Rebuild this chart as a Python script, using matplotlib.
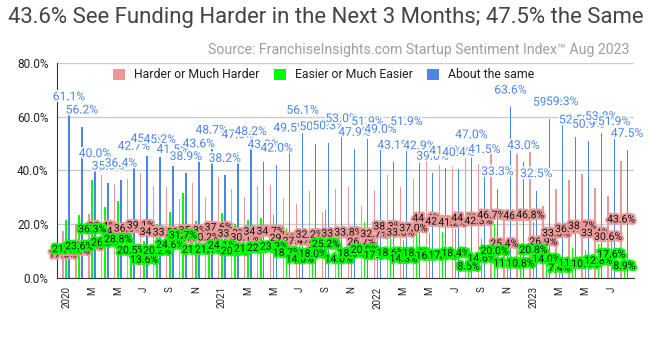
import matplotlib
matplotlib.use("Agg")
import matplotlib.pyplot as plt
import matplotlib.patheffects as pe
from matplotlib.patches import Patch
import numpy as np

plt.rcParams['font.family'] = ['Roboto', 'DejaVu Sans']

# Monthly survey results, Jan 2020 - Aug 2023 (percent of respondents)
harder = [17.5, 20.2, 23.7, 38.4, 34.8, 36.8, 39.1, 34.3, 33.9, 29.4, 35.3, 30.2,
          37.6, 33.0, 30.1, 34.4, 34.7, 29.6, 27.4, 32.2, 24.5, 33.0, 33.8, 26.7,
          32.7, 38.3, 33.8, 37.0, 44.4, 42.0, 41.2, 44.5, 42.3, 46.7, 25.4, 46.2,
          46.8, 26.9, 33.3, 36.4, 38.7, 33.4, 30.6, 43.6]
easier = [21.4, 23.6, 36.3, 26.3, 28.8, 20.5, 13.6, 20.2, 24.6, 31.7, 21.1, 21.1,
          24.1, 20.0, 21.7, 22.3, 23.3, 18.7, 14.0, 18.0, 25.2, 14.0, 18.3, 20.9,
          17.1, 18.6, 14.3, 18.5, 16.6, 17.0, 18.4, 8.5, 14.6, 20.0, 11.0, 10.8,
          20.8, 14.0, 7.4, 11.1, 10.4, 12.8, 17.6, 8.9]
same = [61.1, 56.2, 40.0, 35.3, 36.4, 42.7, 45.5, 45.2, 41.5, 38.9, 43.6, 48.7,
        38.2, 47.0, 48.2, 43.3, 42.0, 49.5, 56.1, 50.0, 50.3, 53.0, 47.9, 51.9,
        49.0, 43.1, 51.9, 42.9, 39.0, 41.0, 40.4, 47.0, 41.5, 33.3, 63.6, 43.0,
        32.5, 59.1, 59.3, 52.5, 50.9, 53.8, 51.9, 47.5]
tick_labels = ['2020', 'M', 'M', 'J', 'S', 'N',
               '2021', 'M', 'M', 'J', 'S', 'N',
               '2022', 'M', 'M', 'J', 'S', 'N',
               '2023', 'M', 'M', 'J']
series_names = ['Harder or Much Harder', 'Easier or Much Easier', 'About the same']

PINK = '#ea9999'
GREEN = '#00ff00'
BLUE = '#4a86e8'

x = np.arange(len(same))
bw = 0.11
offsets = [-0.25, 0.0, 0.23]

fig = plt.figure(figsize=(6.48, 3.37), dpi=100)
ax = fig.add_axes([57 / 648, 59 / 337, (634 - 57) / 648, (278 - 63) / 337])

ax.set_ylim(0, 80)
ax.set_xlim(-0.7, len(same) - 1 + 0.75)
ax.set_yticks([0, 20, 40, 60, 80])
ax.set_yticklabels([f"{v:.1f}%" for v in [0, 20, 40, 60, 80]])
ax.yaxis.grid(True, color='#cccccc', linewidth=1)
ax.set_axisbelow(True)
for s in ['top', 'right']:
    ax.spines[s].set_visible(False)
ax.spines['left'].set_color('#333333')
ax.spines['bottom'].set_color('#333333')
ax.tick_params(axis='y', length=0, pad=6, labelsize=8.5, labelcolor='#222222')
ax.set_xticks(x[::2])
ax.set_xticklabels(tick_labels, rotation=90, va='top', ha='center')
ax.tick_params(axis='x', length=0, pad=6, labelsize=7, labelcolor='#222222')

cols = [PINK, GREEN, BLUE]
data = [harder, easier, same]
for vals, col, off in zip(data, cols, offsets):
    ax.bar(x + off, vals, width=bw, color=col, edgecolor='none',
           linewidth=0, antialiased=False, zorder=2)

# value labels: inside-centre for the first two series, above for the third
for vals, col, off in zip(data[:2], cols[:2], offsets[:2]):
    for xi, v in zip(x, vals):
        ax.text(xi + off, v / 2, f"{v:.1f}%", ha='center', va='center',
                fontsize=7.5, color='#111111', zorder=4,
                path_effects=[pe.withStroke(linewidth=3.2, foreground=col)])
for xi, v in zip(x, same):
    ax.annotate(f"{v:.1f}%", (xi + offsets[2], v), xytext=(0, 17),
                textcoords='offset pixels', ha='center', va='center',
                fontsize=8.7, color=BLUE, zorder=5,
                path_effects=[pe.withStroke(linewidth=2.5, foreground='white')])

handles = [Patch(facecolor=c, edgecolor='none') for c in cols]
fig.legend(handles, series_names, loc='center left',
           bbox_to_anchor=(107 / 648, 1 - 75 / 337), ncol=3, frameon=False,
           fontsize=8.8, handlelength=1.0, handleheight=1.0, handletextpad=0.7,
           columnspacing=1.2, borderpad=0, labelcolor='#222222')

fig.text(8 / 648, 1 - 18 / 337,
         "43.6% See Funding Harder in the Next 3 Months; 47.5% the Same",
         ha='left', va='center', fontsize=15.9, color='#444444')
fig.text(630 / 648, 1 - 50 / 337,
         "Source: FranchiseInsights.com Startup Sentiment Index\u2122 Aug 2023",
         ha='right', va='center', fontsize=10.2, color='#9e9e9e')

fig.savefig('out.png', dpi=100)
